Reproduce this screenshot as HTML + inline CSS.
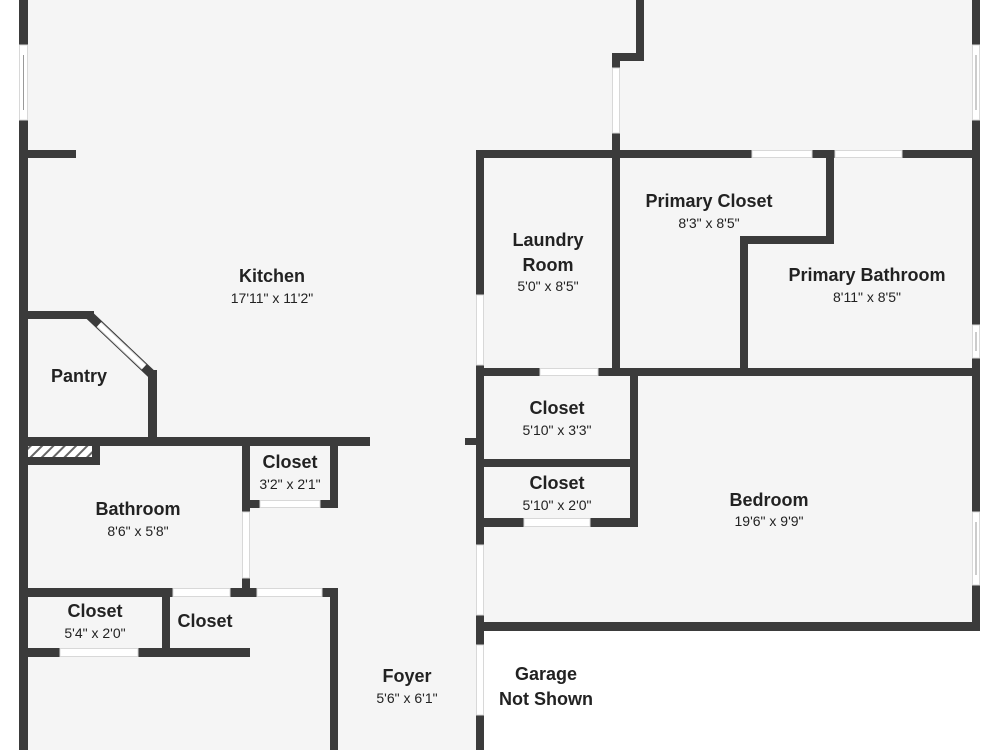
<!DOCTYPE html>
<html><head><meta charset="utf-8"><style>
html,body{margin:0;padding:0;background:#fff;}
svg{display:block}
text{font-family:"Liberation Sans",sans-serif;fill:#222;text-anchor:middle}
.l{font-size:18px;font-weight:bold}
.d{font-size:14px}
</style></head><body>
<svg width="1000" height="750" viewBox="0 0 1000 750" xmlns="http://www.w3.org/2000/svg">
<defs>
<pattern id="h" width="8" height="8" patternUnits="userSpaceOnUse" patternTransform="rotate(45)">
<rect width="8" height="8" fill="#fff"/><rect width="2" height="8" fill="#666"/>
</pattern>
</defs>
<rect x="19" y="0" width="961" height="631" fill="#f5f5f5"/>
<rect x="19" y="631" width="465" height="119" fill="#f5f5f5"/>
<g fill="#3b3b3b">
<rect x="19" y="0" width="9" height="750"/>
<rect x="28" y="150" width="48" height="8"/>
<rect x="636" y="0" width="8" height="61"/>
<rect x="612" y="53" width="32" height="8"/>
<rect x="612" y="53" width="8" height="104"/>
<rect x="972" y="0" width="8" height="631"/>
<rect x="476" y="150" width="504" height="8"/>
<rect x="476" y="150" width="8" height="600"/>
<rect x="465" y="438" width="11" height="7"/>
<rect x="612" y="150" width="8" height="225"/>
<rect x="826" y="150" width="8" height="94"/>
<rect x="740" y="236" width="94" height="8"/>
<rect x="740" y="236" width="8" height="139"/>
<rect x="476" y="368" width="504" height="8"/>
<rect x="630" y="368" width="8" height="159"/>
<rect x="476" y="459" width="162" height="8"/>
<rect x="476" y="518" width="162" height="9"/>
<rect x="476" y="622" width="504" height="9"/>
<rect x="19" y="311" width="75" height="8"/>
<rect x="148" y="370" width="9" height="75"/>
<rect x="19" y="437" width="351" height="9"/>
<rect x="28" y="457" width="72" height="8"/>
<rect x="92" y="446" width="8" height="19"/>
<rect x="242" y="437" width="8" height="160"/>
<rect x="330" y="437" width="8" height="71"/>
<rect x="242" y="500" width="96" height="8"/>
<rect x="19" y="588" width="319" height="9"/>
<rect x="162" y="588" width="8" height="69"/>
<rect x="19" y="648" width="231" height="9"/>
<rect x="330" y="588" width="8" height="162"/>
</g>
<line x1="89" y1="315" x2="152.5" y2="375" stroke="#3b3b3b" stroke-width="9"/>
<line x1="99" y1="324.5" x2="144" y2="367" stroke="#d8d8d8" stroke-width="7"/>
<line x1="99" y1="324.5" x2="144" y2="367" stroke="#fff" stroke-width="5"/>
<rect x="28" y="446" width="64" height="11" fill="url(#h)"/>
<g fill="#fff" stroke="#d8d8d8" stroke-width="1">
<rect x="612.5" y="68" width="7" height="65"/>
<rect x="752" y="150.5" width="60" height="7"/>
<rect x="835" y="150.5" width="67" height="7"/>
<rect x="476.5" y="295" width="7" height="70"/>
<rect x="476.5" y="545" width="7" height="70"/>
<rect x="476.5" y="645" width="7" height="70"/>
<rect x="540" y="368.5" width="58" height="7"/>
<rect x="524" y="518.5" width="66" height="8"/>
<rect x="260" y="500.5" width="60" height="7"/>
<rect x="242.5" y="512" width="7" height="66"/>
<rect x="173" y="588.5" width="57" height="8"/>
<rect x="257" y="588.5" width="65" height="8"/>
<rect x="60" y="648.5" width="78" height="8"/>
<rect x="19.5" y="45" width="8" height="75"/>
<rect x="972.5" y="45" width="7" height="75"/>
<rect x="972.5" y="325" width="7" height="33"/>
<rect x="972.5" y="512" width="7" height="73"/>
</g>
<g stroke="#999" stroke-width="1">
<line x1="23.5" y1="55" x2="23.5" y2="110"/>
<line x1="976" y1="55" x2="976" y2="110"/>
<line x1="976" y1="332" x2="976" y2="351"/>
<line x1="976" y1="522" x2="976" y2="575"/>
</g>
<text class="l" x="272" y="282">Kitchen</text>
<text class="d" x="272" y="303">17'11" x 11'2"</text>
<text class="l" x="79" y="382">Pantry</text>
<text class="l" x="138" y="515">Bathroom</text>
<text class="d" x="138" y="536">8'6" x 5'8"</text>
<text class="l" x="290" y="468">Closet</text>
<text class="d" x="290" y="489">3'2" x 2'1"</text>
<text class="l" x="95" y="617">Closet</text>
<text class="d" x="95" y="638">5'4" x 2'0"</text>
<text class="l" x="205" y="627">Closet</text>
<text class="l" x="407" y="682">Foyer</text>
<text class="d" x="407" y="703">5'6" x 6'1"</text>
<text class="l" x="546" y="680">Garage</text>
<text class="l" x="546" y="705">Not Shown</text>
<text class="l" x="548" y="246">Laundry</text>
<text class="l" x="548" y="271">Room</text>
<text class="d" x="548" y="291">5'0" x 8'5"</text>
<text class="l" x="709" y="207">Primary Closet</text>
<text class="d" x="709" y="228">8'3" x 8'5"</text>
<text class="l" x="867" y="281">Primary Bathroom</text>
<text class="d" x="867" y="302">8'11" x 8'5"</text>
<text class="l" x="557" y="414">Closet</text>
<text class="d" x="557" y="435">5'10" x 3'3"</text>
<text class="l" x="557" y="489">Closet</text>
<text class="d" x="557" y="510">5'10" x 2'0"</text>
<text class="l" x="769" y="506">Bedroom</text>
<text class="d" x="769" y="526">19'6" x 9'9"</text>
</svg>
</body></html>
